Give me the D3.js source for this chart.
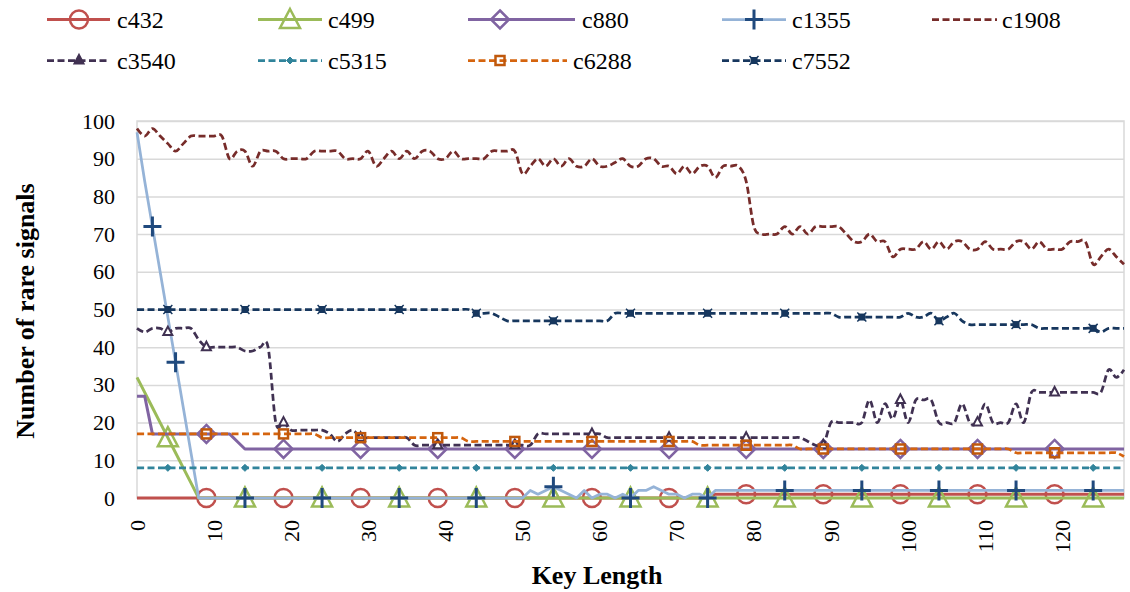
<!DOCTYPE html>
<meta charset="utf-8">
<script src="https://cdn.jsdelivr.net/npm/d3@7"></script>
<style>
  body { margin: 0; background: #fff; }
</style>
<div id="js_chart"></div>

<script>
// ******************************************
// data: one value per key length 0..128
// ******************************************
const c432 = [
  0,0,0,0,0,0,0,0,0,0, 0,0,0,0,0,0,0,0,0,0, 0,0,0,0,0,0,0,0,0,0, 0,0,0,0,0,0,0,0,0,0,
  0,0,0,0,0,0,0,0,0,0, 0,0,0,0,0,0,0,0,0,0, 0,0,0,0,0,0,0,0,0,0, 0,0,0,0,0,1,1,1,1,1,
  1,1,1,1,1,1,1,1,1,1, 1,1,1,1,1,1,1,1,1,1, 1,1,1,1,1,1,1,1,1,1, 1,1,1,1,1,1,1,1,1,1,
  1,1,1,1,1,1,1,1,1];
const c499 = [
  32,28,24,20,16,12,8,4,0,0, 0,0,0,0,0,0,0,0,0,0, 0,0,0,0,0,0,0,0,0,0, 0,0,0,0,0,0,0,0,0,0,
  0,0,0,0,0,0,0,0,0,0, 0,0,0,0,0,0,0,0,0,0, 0,0,0,0,0,0,0,0,0,0, 0,0,0,0,0,0,0,0,0,0,
  0,0,0,0,0,0,0,0,0,0, 0,0,0,0,0,0,0,0,0,0, 0,0,0,0,0,0,0,0,0,0, 0,0,0,0,0,0,0,0,0,0,
  0,0,0,0,0,0,0,0,0];
const c880 = [
  27,27,17,17,17,17,17,17,17,17, 17,17,17,15,13,13,13,13,13,13, 13,13,13,13,13,13,13,13,13,13,
  13,13,13,13,13,13,13,13,13,13, 13,13,13,13,13,13,13,13,13,13, 13,13,13,13,13,13,13,13,13,13,
  13,13,13,13,13,13,13,13,13,13, 13,13,13,13,13,13,13,13,13,13, 13,13,13,13,13,13,13,13,13,13,
  13,13,13,13,13,13,13,13,13,13, 13,13,13,13,13,13,13,13,13,13, 13,13,13,13,13,13,13,13,13,13,
  13,13,13,13,13,13,13,13,13];
const c1355 = [
  97,84,72,60,48,36,24,12,0,0, 0,0,0,0,0,0,0,0,0,0, 0,0,0,0,0,0,0,0,0,0, 0,0,0,0,0,0,0,0,0,0,
  0,0,0,0,0,0,0,0,0,0, 0,2,1,2,3,2,1,0,2,0, 1,1,0,1,0,2,2,3,2,1, 1,0,1,1,0,2,2,2,2,2,
  2,2,2,2,2,2,2,2,2,2, 2,2,2,2,2,2,2,2,2,2, 2,2,2,2,2,2,2,2,2,2, 2,2,2,2,2,2,2,2,2,2,
  2,2,2,2,2,2,2,2,2];
const c1908 = [
  98,96,98,96,94,92,94,96,96,96, 96,96,90,92,92,88,92,92,92,90, 90,90,90,92,92,92,92,90,90,90,
  92,88,90,92,90,92,90,92,92,90, 90,92,90,90,90,90,92,92,92,92, 86,88,90,88,90,88,90,88,88,90,
  88,88,89,90,88,88,90,90,88,88, 86,88,86,88,88,85,88,88,88,84, 72,70,70,70,72,70,72,70,72,72,
  72,72,70,68,68,70,68,68,64,66, 66,66,68,66,68,66,68,68,66,66, 68,66,66,66,68,68,66,68,66,66,
  66,68,68,68,62,64,66,64,62];
const c3540 = [
  45,44,45,45,44,45,45,45,42,40, 40,40,40,40,39,39,40,40,20,20, 18,18,18,18,18,17,15,17,18,16,
  16,16,16,16,16,16,14,14,14,14, 14,14,14,14,14,14,14,14,14,14, 14,14,17,17,17,17,17,17,17,17,
  17,16,16,16,16,16,16,16,16,16, 16,16,16,16,16,16,16,16,16,16, 16,16,16,16,16,16,16,15,14,14,
  20,20,20,20,20,26,20,25,21,26, 20,26,26,26,20,20,20,25,20,20, 25,20,20,20,25,20,28,28,28,28,
  28,28,28,28,28,28,34,32,34];
const c5315 = [
  8,8,8,8,8,8,8,8,8,8, 8,8,8,8,8,8,8,8,8,8, 8,8,8,8,8,8,8,8,8,8, 8,8,8,8,8,8,8,8,8,8,
  8,8,8,8,8,8,8,8,8,8, 8,8,8,8,8,8,8,8,8,8, 8,8,8,8,8,8,8,8,8,8, 8,8,8,8,8,8,8,8,8,8,
  8,8,8,8,8,8,8,8,8,8, 8,8,8,8,8,8,8,8,8,8, 8,8,8,8,8,8,8,8,8,8, 8,8,8,8,8,8,8,8,8,8,
  8,8,8,8,8,8,8,8,8];
const c6288 = [
  17,17,17,17,17,17,17,17,17,17, 17,17,17,17,17,17,17,17,17,17, 17,17,17,17,16,16,16,16,16,16,
  16,16,16,16,16,16,16,16,16,16, 16,16,16,15,15,15,15,15,15,15, 15,15,15,15,15,15,15,15,15,15,
  15,15,15,15,15,15,15,15,15,15, 15,15,15,14,14,14,14,14,14,14, 14,14,14,14,14,14,13,13,13,13,
  13,13,13,13,13,13,13,13,13,13, 13,13,13,13,13,13,13,13,13,13, 13,13,13,13,12,12,12,12,12,12,
  12,12,12,12,12,12,12,12,11];
const c7552 = [
  50,50,50,50,50,50,50,50,50,50, 50,50,50,50,50,50,50,50,50,50, 50,50,50,50,50,50,50,50,50,50,
  50,50,50,50,50,50,50,50,50,50, 50,50,50,50,49,49,49,48,47,47, 47,47,47,47,47,47,47,47,47,47,
  47,47,49,49,49,49,49,49,49,49, 49,49,49,49,49,49,49,49,49,49, 49,49,49,49,49,49,49,49,49,49,
  49,48,48,48,48,48,48,48,48,48, 49,48,48,49,47,48,49,47,46,46, 46,46,46,46,46,46,46,45,45,45,
  45,45,45,45,45,44,45,45,45];

// key lengths that carry a marker, per series
const c432Marks  = [9, 19, 29, 39, 49, 59, 69, 79, 89, 99, 109, 119];
const c499Marks  = [4, 14, 24, 34, 44, 54, 64, 74, 84, 94, 104, 114, 124];
const c880Marks  = [9, 19, 29, 39, 49, 59, 69, 79, 89, 99, 109, 119];
const c1355Marks = [2, 5, 14, 24, 34, 44, 54, 64, 74, 84, 94, 104, 114, 124];
const c1908Marks = [];
const c3540Marks = [4, 9, 19, 29, 39, 49, 59, 69, 79, 89, 99, 109, 119];
const c5315Marks = [4, 14, 24, 34, 44, 54, 64, 74, 84, 94, 104, 114, 124];
const c6288Marks = [9, 19, 29, 39, 49, 59, 69, 79, 89, 99, 109, 119];
const c7552Marks = [4, 14, 24, 34, 44, 54, 64, 74, 84, 94, 104, 114, 124];

const seriesNames = ["c432", "c499", "c880", "c1355", "c1908", "c3540", "c5315", "c6288", "c7552"];
const xTicks = [0, 10, 20, 30, 40, 50, 60, 70, 80, 90, 100, 110, 120];
const yTicks = [0, 10, 20, 30, 40, 50, 60, 70, 80, 90, 100];
const xTitle = "Key Length";
const yTitle = "Number of rare signals";

// ******************************************
// styles
// ******************************************
const FONT = "'Liberation Serif', 'Times New Roman', serif";
const DASH = "7,3.5";
const styles = {
  c432:  {values: c432,  marks: c432Marks,  line: "#C0504D", mark: "#C0504D", dash: null, w: 3,    shape: "circle",  smooth: false},
  c499:  {values: c499,  marks: c499Marks,  line: "#9BBB59", mark: "#9BBB59", dash: null, w: 3,    shape: "triangle", smooth: false},
  c880:  {values: c880,  marks: c880Marks,  line: "#8064A2", mark: "#8064A2", dash: null, w: 3,    shape: "diamond", smooth: false},
  c1355: {values: c1355, marks: c1355Marks, line: "#95B3D7", mark: "#1F497D", dash: null, w: 2.75, shape: "plus",    smooth: false},
  c1908: {values: c1908, marks: c1908Marks, line: "#772C2A", mark: "#772C2A", dash: DASH, w: 2.75, shape: "none",    smooth: true},
  c3540: {values: c3540, marks: c3540Marks, line: "#403152", mark: "#403152", dash: DASH, w: 2.75, shape: "smalltri", smooth: true},
  c5315: {values: c5315, marks: c5315Marks, line: "#31849B", mark: "#31849B", dash: DASH, w: 2.75, shape: "dot",     smooth: true},
  c6288: {values: c6288, marks: c6288Marks, line: "#D5640E", mark: "#C0580C", dash: DASH, w: 2.75, shape: "square",  smooth: true},
  c7552: {values: c7552, marks: c7552Marks, line: "#17375E", mark: "#17375E", dash: DASH, w: 2.75, shape: "star",    smooth: true}
};

// ******************************************
// layout
// ******************************************
const width = 1130, height = 592;
const plot = {left: 137, right: 1124, top: 121, bottom: 498};

const x = d3.scaleLinear().domain([0, 128]).range([plot.left, plot.right]);
const y = d3.scaleLinear().domain([0, 100]).range([plot.bottom, plot.top]);

const svg = d3.select("#js_chart")
  .append("svg")
  .attr("width", width)
  .attr("height", height)
  .style("display", "block");

// gridlines
svg.append("g")
  .attr("transform", "translate(" + plot.left + ",0)")
  .call(d3.axisLeft(y).tickValues(yTicks).tickSize(-(plot.right - plot.left)).tickFormat(""))
  .call(g => g.select(".domain").remove())
  .call(g => g.selectAll("line").attr("stroke", "#D9D9D9").attr("stroke-width", 1.5));

svg.append("rect")
  .attr("x", plot.left).attr("y", plot.top)
  .attr("width", plot.right - plot.left).attr("height", plot.bottom - plot.top)
  .attr("fill", "none").attr("stroke", "#D9D9D9").attr("stroke-width", 1.5);

// y labels
svg.append("g")
  .attr("transform", "translate(" + plot.left + ",0)")
  .call(d3.axisLeft(y).tickValues(yTicks).tickSize(0).tickPadding(22))
  .call(g => g.select(".domain").remove())
  .selectAll("text")
  .style("font-family", FONT).style("font-size", "22px").attr("fill", "#000");

// x labels, rotated
svg.append("g")
  .attr("transform", "translate(0," + plot.bottom + ")")
  .call(d3.axisBottom(x).tickValues(xTicks).tickSize(0))
  .call(g => g.select(".domain").remove())
  .selectAll("text")
  .style("font-family", FONT).style("font-size", "22px").attr("fill", "#000")
  .attr("transform", "rotate(-90)")
  .attr("text-anchor", "end")
  .attr("x", -22).attr("y", 0).attr("dy", "0.32em");

// titles
svg.append("text")
  .attr("x", 597).attr("y", 584)
  .attr("text-anchor", "middle")
  .style("font-family", FONT).style("font-size", "26px").style("font-weight", "bold")
  .text(xTitle);

svg.append("text")
  .attr("transform", "translate(34," + 311 + ") rotate(-90)")
  .attr("text-anchor", "middle")
  .style("font-family", FONT).style("font-size", "26px").style("font-weight", "bold")
  .text(yTitle);

// ******************************************
// markers
// ******************************************
function drawMarker(g, shape, cx, cy, color, filled) {
  let p;
  switch (shape) {
    case "circle":
      g.append("circle").attr("cx", cx).attr("cy", cy).attr("r", 9)
        .attr("fill", "none").attr("stroke", color).attr("stroke-width", 2.5);
      break;
    case "triangle":
      p = d3.path();
      p.moveTo(cx, cy - 10.5); p.lineTo(cx + 10, cy + 8.5); p.lineTo(cx - 10, cy + 8.5); p.closePath();
      g.append("path").attr("d", p.toString())
        .attr("fill", "none").attr("stroke", color).attr("stroke-width", 2.5).attr("stroke-linejoin", "miter");
      break;
    case "diamond":
      p = d3.path();
      p.moveTo(cx, cy - 9); p.lineTo(cx + 9, cy); p.lineTo(cx, cy + 9); p.lineTo(cx - 9, cy); p.closePath();
      g.append("path").attr("d", p.toString())
        .attr("fill", "none").attr("stroke", color).attr("stroke-width", 2.5);
      break;
    case "plus":
      p = d3.path();
      p.moveTo(cx - 9, cy); p.lineTo(cx + 9, cy); p.moveTo(cx, cy - 10); p.lineTo(cx, cy + 10);
      g.append("path").attr("d", p.toString())
        .attr("fill", "none").attr("stroke", color).attr("stroke-width", 3);
      break;
    case "smalltri":
      p = d3.path();
      p.moveTo(cx, cy - 5.5); p.lineTo(cx + 4.5, cy + 3); p.lineTo(cx - 4.5, cy + 3); p.closePath();
      g.append("path").attr("d", p.toString())
        .attr("fill", filled ? color : "#fff").attr("stroke", color).attr("stroke-width", 2);
      break;
    case "dot":
      p = d3.path();
      p.moveTo(cx, cy - 3.5); p.lineTo(cx + 3.5, cy); p.lineTo(cx, cy + 3.5); p.lineTo(cx - 3.5, cy); p.closePath();
      g.append("path").attr("d", p.toString()).attr("fill", color).attr("stroke", color).attr("stroke-width", 1);
      break;
    case "square":
      g.append("rect").attr("x", cx - 4.5).attr("y", cy - 4.5).attr("width", 9).attr("height", 9)
        .attr("fill", "none").attr("stroke", color).attr("stroke-width", 2.5);
      break;
    case "star":
      g.append("rect").attr("x", cx - 3.5).attr("y", cy - 3.5).attr("width", 7).attr("height", 7)
        .attr("fill", color);
      p = d3.path();
      p.moveTo(cx - 4.5, cy - 4.5); p.lineTo(cx + 4.5, cy + 4.5); p.moveTo(cx + 4.5, cy - 4.5); p.lineTo(cx - 4.5, cy + 4.5);
      g.append("path").attr("d", p.toString()).attr("stroke", color).attr("stroke-width", 1.5);
      break;
  }
}

// ******************************************
// series
// ******************************************
const gSeries = svg.append("g").attr("id", "g_plot");

seriesNames.forEach(function (name) {
  const s = styles[name];
  const line = d3.line()
    .x(function (d, i) { return x(i); })
    .y(function (d) { return y(d); })
    .curve(s.smooth ? d3.curveCatmullRom.alpha(0) : d3.curveLinear);

  const g = gSeries.append("g").attr("class", "series " + name);
  g.append("path")
    .datum(s.values)
    .attr("d", line)
    .attr("fill", "none")
    .attr("stroke", s.line)
    .attr("stroke-width", s.w)
    .attr("stroke-linejoin", "round")
    .attr("stroke-dasharray", s.dash);

  s.marks.forEach(function (k) {
    drawMarker(g, s.shape, x(k), y(s.values[k]), s.mark, false);
  });
});

// ******************************************
// legend
// ******************************************
// [lineStart, lineEnd, textX, rowY]
const legendPos = {
  c432:  [47, 110, 117, 19.5],
  c499:  [258, 322, 328, 19.5],
  c880:  [468, 575, 582, 19.5],
  c1355: [722, 786, 792, 19.5],
  c1908: [932, 997, 1002, 19.5],
  c3540: [47, 110, 117, 60.5],
  c5315: [258, 322, 328, 60.5],
  c6288: [468, 567, 573, 60.5],
  c7552: [722, 786, 792, 60.5]
};

const gLegend = svg.append("g").attr("id", "g_legend");
seriesNames.forEach(function (name) {
  const s = styles[name];
  const p = legendPos[name];
  const g = gLegend.append("g");
  g.append("line")
    .attr("x1", p[0]).attr("x2", p[1]).attr("y1", p[3]).attr("y2", p[3])
    .attr("stroke", s.line).attr("stroke-width", s.w)
    .attr("stroke-dasharray", s.dash);
  if (s.shape !== "none") drawMarker(g, s.shape, p[0] + 32, p[3], s.mark, true);
  g.append("text")
    .attr("x", p[2]).attr("y", p[3] + 8.5)
    .style("font-family", FONT).style("font-size", "24px").attr("fill", "#000")
    .text(name);
});
</script>
